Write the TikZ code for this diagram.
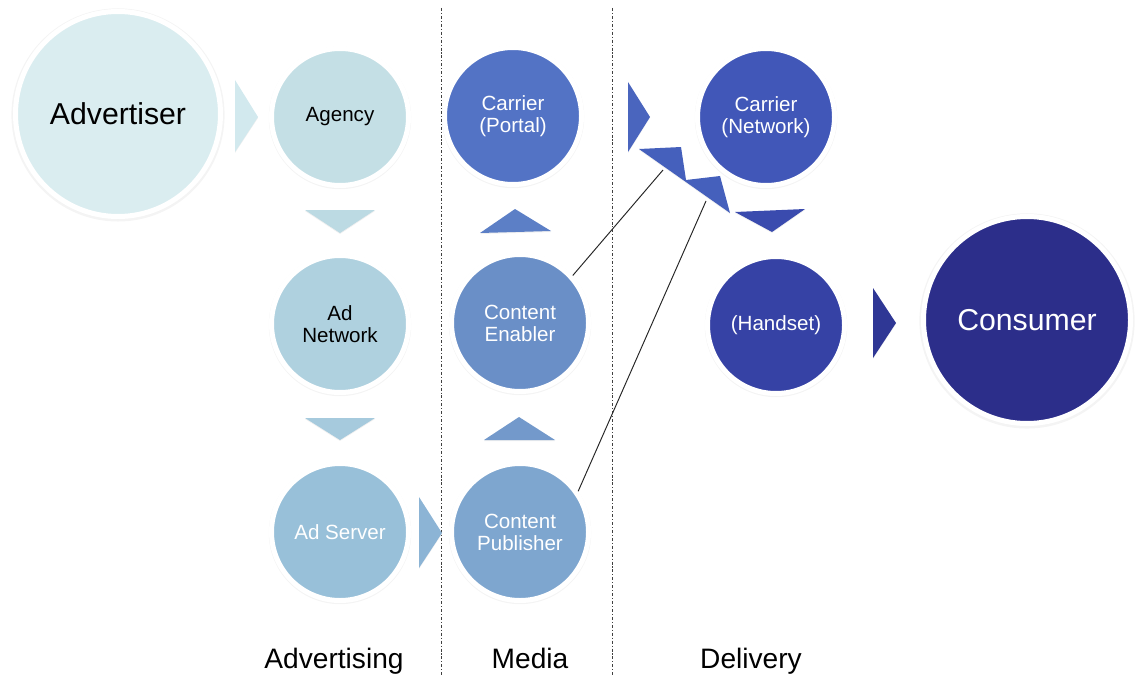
\documentclass[tikz,border=0pt]{standalone}
\usepackage{fontspec}
\setmainfont{Liberation Sans}
\usetikzlibrary{shadows}

% circle fills, light to dark along the chain
\definecolor{advcol}{HTML}{DAEDF0}
\definecolor{agencycol}{HTML}{C4DFE5}
\definecolor{adnetcol}{HTML}{AFD1DF}
\definecolor{adservcol}{HTML}{98C0D9}
\definecolor{pubcol}{HTML}{7EA6CF}
\definecolor{enabcol}{HTML}{6A8FC7}
\definecolor{portalcol}{HTML}{5373C5}
\definecolor{netcol}{HTML}{4157B8}
\definecolor{handcol}{HTML}{3642A5}
\definecolor{conscol}{HTML}{2C2E8A}
% the little triangles in between
\definecolor{tri1}{HTML}{D2E9EE}
\definecolor{tri2}{HTML}{BCDAE3}
\definecolor{tri3}{HTML}{A6CADD}
\definecolor{tri4}{HTML}{8CB4D5}
\definecolor{tri5}{HTML}{7399CB}
\definecolor{tri6}{HTML}{5C7FC6}
\definecolor{tri7}{HTML}{4A65BE}
\definecolor{tri8}{HTML}{4560BC}
\definecolor{tri9}{HTML}{3A4BAE}
\definecolor{tri10}{HTML}{2F3795}

\tikzset{
  bubble/.style={circle,draw=white,line width=1mm,minimum size=#1,inner sep=0pt,
    align=center,drop shadow={shadow xshift=0pt,shadow yshift=-0.5pt,
    shadow scale=1.04,opacity=0.09}},
  bubble/.default=27.4mm,
  smalltext/.style={font=\fontsize{11.7}{12.6}\selectfont},
  bigtext/.style={font=\fontsize{17.2}{20}\selectfont},
  chevron/.style={fill=#1,drop shadow={shadow xshift=0pt,shadow yshift=-0.6pt,opacity=0.12}},
  divider/.style={line width=0.55pt,color=black!75,dash pattern=on 1.7pt off 1.1pt on 0.6pt off 1.1pt},
  link/.style={line width=0.55pt,color=black!85},
  section/.style={anchor=base,font=\fontsize{16}{18}\selectfont}
}

\begin{document}
\begin{tikzpicture}[x=0.2mm,y=-0.2mm]
  \useasboundingbox (0,0) rectangle (1136,675);

  % column separators
  \draw[divider] (441,8) -- (441,675);
  \draw[divider] (612,8) -- (612,675);

  % triangles between the circles
  \fill[chevron=tri1] (235,80) -- (258,117) -- (235,152) -- cycle;
  \fill[chevron=tri2] (305,210) -- (375,210) -- (340,233) -- cycle;
  \fill[chevron=tri3] (305,418) -- (375,418) -- (340,440) -- cycle;
  \fill[chevron=tri4] (419,497) -- (442,533) -- (419,568) -- cycle;
  \fill[chevron=tri5] (484,440) -- (519,417) -- (555,440) -- cycle;
  \fill[chevron=tri6] (480,233) -- (515,209) -- (551,231) -- cycle;
  \fill[chevron=tri7] (628,82) -- (650,117) -- (628,152) -- cycle;
  \fill[chevron=tri8] (639,149) -- (681,147) -- (686,180) -- (720,176) -- (730,213) -- cycle;
  \fill[chevron=tri9] (735,212) -- (805,209) -- (772,232) -- cycle;
  \fill[chevron=tri10] (873,288) -- (896,323) -- (873,358) -- cycle;

  % circles
  \node[bubble=41mm,fill=advcol,bigtext] (advertiser) at (118,114) {Advertiser};
  \node[bubble,fill=agencycol,smalltext] (agency) at (340,117) {Agency};
  \node[bubble,fill=adnetcol,smalltext] (adnet) at (340,324) {Ad\\Network};
  \node[bubble,fill=adservcol,smalltext,text=white] (adserver) at (340,532) {Ad Server};
  \node[bubble,fill=pubcol,smalltext,text=white] (publisher) at (520,532) {Content\\Publisher};
  \node[bubble,fill=enabcol,smalltext,text=white] (enabler) at (520,323) {Content\\Enabler};
  \node[bubble,fill=portalcol,smalltext,text=white] (portal) at (513,116) {Carrier\\(Portal)};
  \node[bubble,fill=netcol,smalltext,text=white] (network) at (766,117) {Carrier\\(Network)};
  \node[bubble,fill=handcol,smalltext,text=white] (handset) at (776,325) {(Handset)};
  \node[bubble=41.4mm,fill=conscol,bigtext,text=white] (consumer) at (1027,320) {Consumer};

  % thin lines up to the zigzag
  \coordinate (zig1) at (663,170);
  \coordinate (zig2) at (706,201);
  \draw[link] (enabler.42) -- (zig1);
  \draw[link] (publisher.35) -- (zig2);

  % column titles
  \node[section] (advertising) at (334,668) {Advertising};
  \node[section] (media) at (530,668) {Media};
  \node[section] (delivery) at (751,668) {Delivery};
\end{tikzpicture}
\end{document}
